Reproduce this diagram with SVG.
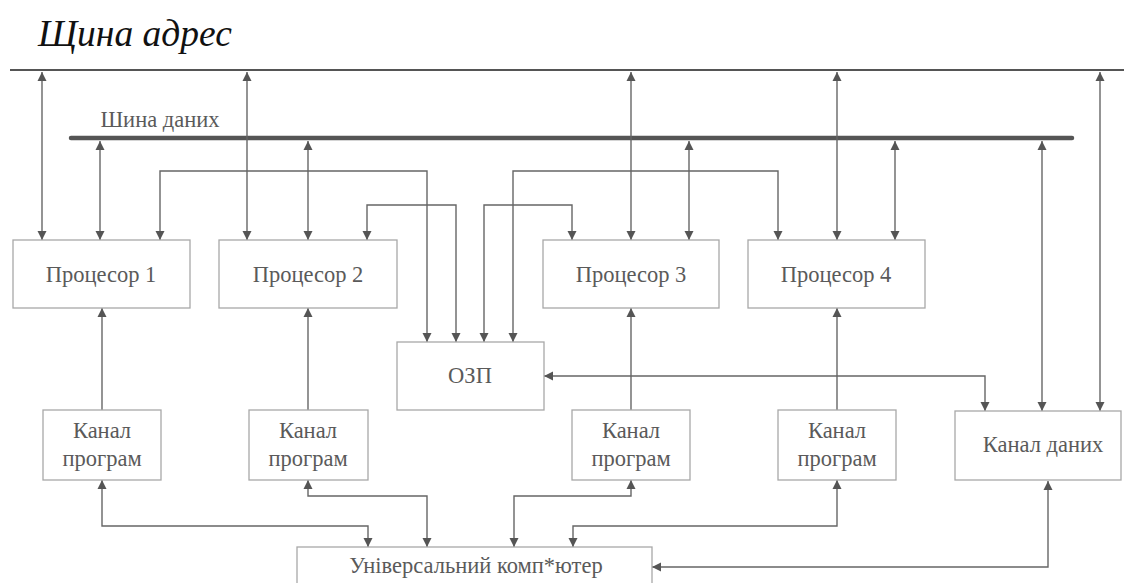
<svg xmlns="http://www.w3.org/2000/svg" width="1124" height="583" viewBox="0 0 1124 583">
<style>
.box{fill:#fff;stroke:#a8a8a8;stroke-width:1.3}
.t{font-family:"Liberation Serif","DejaVu Serif",serif;font-size:22.5px;fill:#5a5a5a;text-anchor:middle}
.c{fill:none;stroke:#666;stroke-width:1.4}
.b2{marker-start:url(#ah);marker-end:url(#ah)}
.b1{marker-end:url(#ah)}
</style>
<defs>
<marker id="ah" viewBox="0 0 10 10" refX="10" refY="5" markerWidth="9" markerHeight="10" markerUnits="userSpaceOnUse" orient="auto-start-reverse">
<path d="M0,0 L10,5 L0,10 z" fill="#555"/>
</marker>
</defs>
<rect width="1124" height="583" fill="#fff"/>
<text x="38" y="46" style="font-family:'Liberation Serif',serif;font-style:italic;font-size:37.5px;fill:#111">Щина адрес</text>
<g id="address-bus"><line x1="10" y1="70" x2="1124" y2="70" stroke="#555" stroke-width="2"/></g>
<g id="data-bus"><line x1="71" y1="138" x2="1072" y2="138" stroke="#555" stroke-width="4.5" stroke-linecap="round"/>
<text class="t" x="160" y="127">Шина даних</text></g>
<g id="connectors">
<path class="c b2" d="M42,72 V240"/>
<path class="c b2" d="M247,72 V240"/>
<path class="c b2" d="M631,72 V240"/>
<path class="c b2" d="M837,72 V240"/>
<path class="c b2" d="M1100,72 V411"/>
<path class="c b2" d="M100,141 V240"/>
<path class="c b2" d="M308,141 V240"/>
<path class="c b2" d="M689,141 V240"/>
<path class="c b2" d="M895,141 V240"/>
<path class="c b2" d="M1042,141 V411"/>
<path class="c b2" d="M160,240 V171 H427 V342"/>
<path class="c b2" d="M367,240 V205 H456 V342"/>
<path class="c b2" d="M572,240 V205 H484 V342"/>
<path class="c b2" d="M778,240 V171 H513 V342"/>
<path class="c b1" d="M102,410 V308"/>
<path class="c b1" d="M308,410 V308"/>
<path class="c b1" d="M631,410 V308"/>
<path class="c b1" d="M837,410 V308"/>
<path class="c b2" d="M544,376 H985 V411"/>
<path class="c b2" d="M102,480 V526 H368 V547"/>
<path class="c b2" d="M308,480 V496 H427 V547"/>
<path class="c b2" d="M631,480 V496 H514 V547"/>
<path class="c b2" d="M837,480 V526 H573 V547"/>
<path class="c b2" d="M1048,481 V567 H652"/>
</g>
<g id="p1"><rect class="box" x="13" y="240" width="177" height="68"/><text class="t" x="101" y="282">Процесор 1</text></g>
<g id="p2"><rect class="box" x="219" y="240" width="178" height="68"/><text class="t" x="308" y="282">Процесор 2</text></g>
<g id="p3"><rect class="box" x="543" y="240" width="176" height="68"/><text class="t" x="631" y="282">Процесор 3</text></g>
<g id="p4"><rect class="box" x="748" y="240" width="177" height="68"/><text class="t" x="836" y="282">Процесор 4</text></g>
<g id="ozp"><rect class="box" x="397" y="342" width="147" height="68"/><text class="t" x="470" y="383">ОЗП</text></g>
<g id="kp1"><rect class="box" x="43" y="410" width="118" height="70"/><text class="t" x="102" y="438">Канал</text><text class="t" x="102" y="466">програм</text></g>
<g id="kp2"><rect class="box" x="249" y="410" width="119" height="70"/><text class="t" x="308" y="438">Канал</text><text class="t" x="308" y="466">програм</text></g>
<g id="kp3"><rect class="box" x="572" y="410" width="118" height="70"/><text class="t" x="631" y="438">Канал</text><text class="t" x="631" y="466">програм</text></g>
<g id="kp4"><rect class="box" x="778" y="410" width="118" height="70"/><text class="t" x="837" y="438">Канал</text><text class="t" x="837" y="466">програм</text></g>
<g id="kd"><rect class="box" x="955" y="411" width="166" height="69"/><text class="t" x="1043" y="452">Канал даних</text></g>
<g id="uk"><rect class="box" x="297" y="547" width="355" height="40"/><text class="t" x="476" y="573">Універсальний комп*ютер</text></g>
</svg>
